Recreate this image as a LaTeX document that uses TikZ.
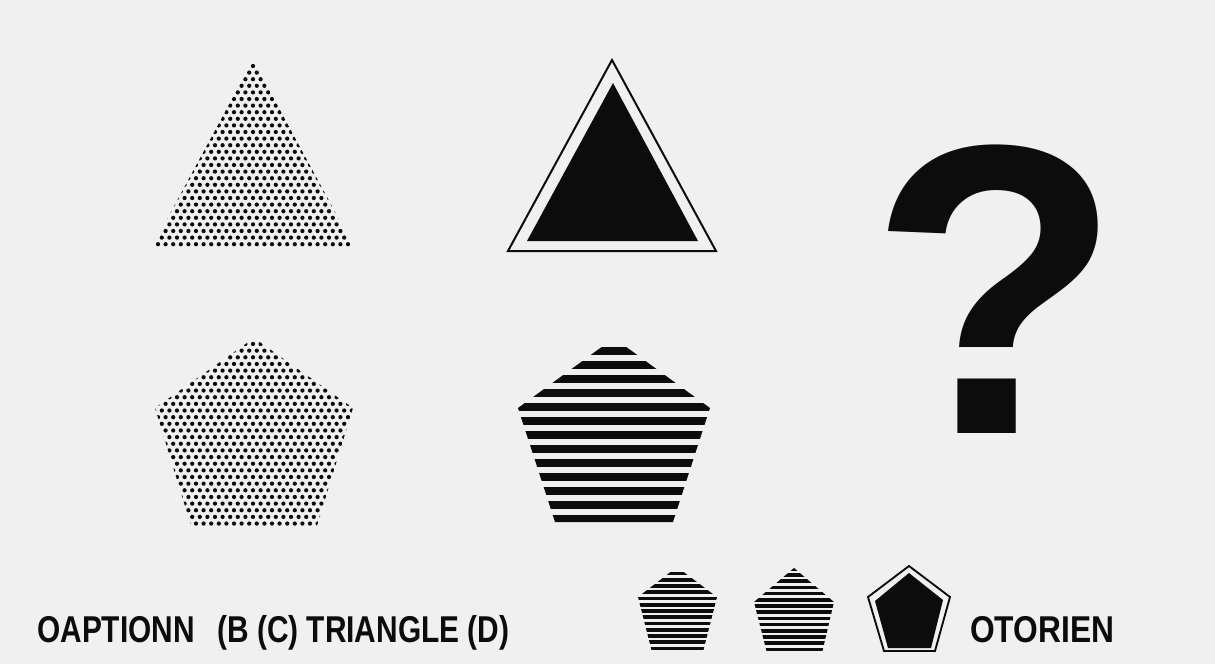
\documentclass[tikz,border=0pt]{standalone}
\usepackage{fontspec}
\setmainfont{Liberation Sans}
\usepackage{xcolor}
\usepackage{tikz}
\definecolor{paper}{RGB}{240,240,240}
\definecolor{ink}{RGB}{12,12,12}
\tikzset{
  dot/.style={fill=ink},
  band/.style={fill=ink},
  caption/.style={font=\fontsize{28}{30}\selectfont\bfseries, text=ink, inner sep=0pt, anchor=base west},
  qmark/.style={font=\fontsize{310}{310}\selectfont\bfseries, text=ink, inner sep=0pt, anchor=base}
}

\begin{document}
\begin{tikzpicture}[x=0.75pt,y=-0.75pt]
\fill[paper] (0,0) rectangle (1215,664);
\useasboundingbox (0,0) rectangle (1215,664);
% dotted triangle
\begin{scope}
\clip (253,60) -- (355,249) -- (151,249) -- cycle;
\foreach \j in {0,...,27}{
  \pgfmathsetmacro{\yy}{66+6.6*\j}
  \pgfmathsetmacro{\xo}{253-3.8*mod(\j,2)}
  \foreach \i in {-14,...,14}
    \fill[dot] ({\xo+7.6*(\i)},\yy) circle[radius=1.6pt];
}
\end{scope}
% outlined triangle
\draw[ink, line width=1.5pt] (612,60) -- (716,251) -- (508,251) -- cycle;
\fill[ink] (613,83) -- (698,241) -- (527,241) -- cycle;
% question mark
\node[qmark] (qm) at (996,433) {?};
%
% dotted pentagon
\begin{scope}
\clip (254,338) -- (353,408) -- (316,529) -- (192,529) -- (155,408) -- cycle;
\foreach \j in {0,...,27}{
  \pgfmathsetmacro{\yy}{344+6.65*\j}
  \pgfmathsetmacro{\xo}{253-3.8*mod(\j,2)}
  \foreach \i in {-14,...,14}
    \fill[dot] ({\xo+7.6*(\i)},\yy) circle[radius=1.6pt];
}
\end{scope}
% striped pentagon
\begin{scope}
\clip (614,338) -- (710,408) -- (673,522) -- (555,522) -- (518,408) -- cycle;
\foreach \k in {0,...,12}
  \fill[band] (510,{347+14*\k}) rectangle (720,{354.5+14*\k});
\end{scope}
%
% bottom row
\node[caption] (opts) at (37,642) {\scalebox{0.80}[1]{OAPTIONN\hspace{0.75em}(B (C) TRIANGLE (D)}};
\begin{scope}
\clip (677,567) -- (717,597) -- (703,652) -- (652,652) -- (638,597) -- cycle;
\foreach \k in {0,...,12}
  \fill[band] (630,{571.5+6.25*\k}) rectangle (725,{575.3+6.25*\k});
\end{scope}
\begin{scope}
\clip (794,568) -- (834,602) -- (822,653) -- (767,653) -- (754,602) -- cycle;
\foreach \k in {0,...,13}
  \fill[band] (745,{566.9+6.2*\k}) rectangle (840,{570.6+6.2*\k});
\end{scope}
\draw[ink, line width=1.4pt] (909,566) -- (950,597) -- (935,651) -- (884,651) -- (868,597) -- cycle;
\fill[ink] (909,573) -- (943,600) -- (931,648) -- (888,648) -- (875,601) -- cycle;
\node[caption] (ans) at (970,642) {\scalebox{0.85}[1]{OTORIEN}};
\end{tikzpicture}
\end{document}
